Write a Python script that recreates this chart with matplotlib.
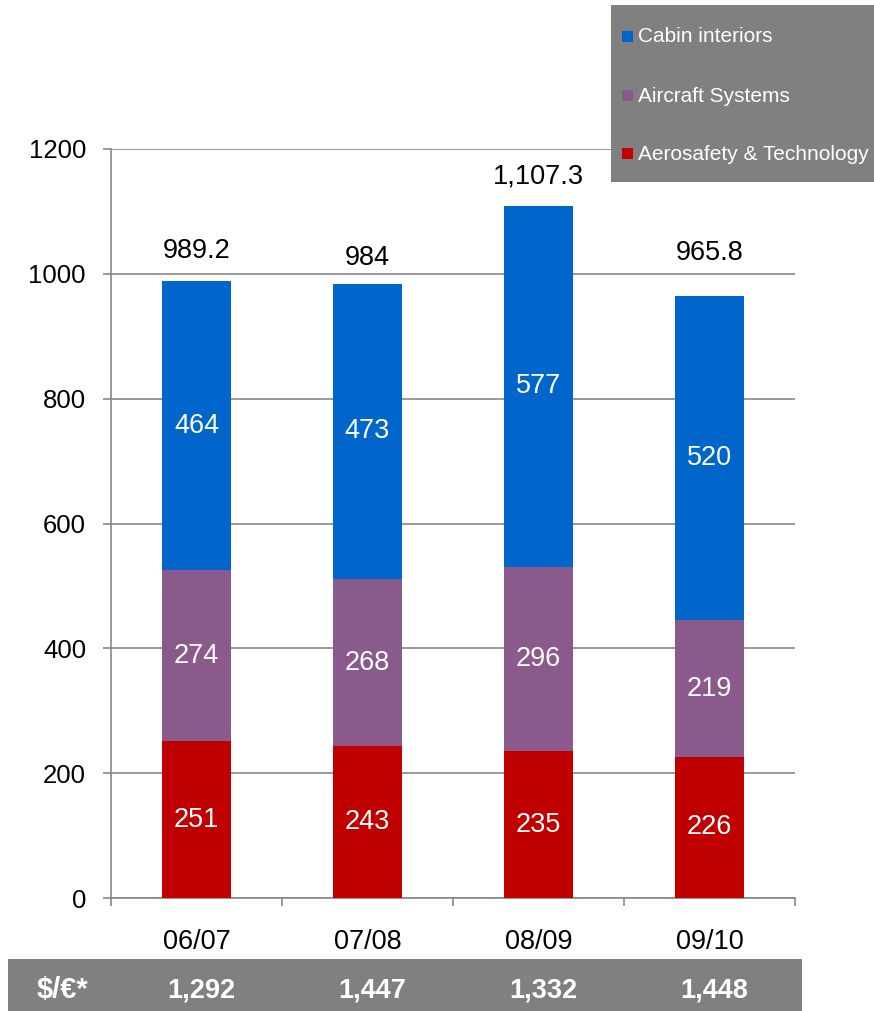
import matplotlib
matplotlib.use("Agg")
import matplotlib.pyplot as plt
from matplotlib.patches import Rectangle
from matplotlib.transforms import blended_transform_factory
import numpy as np

plt.rcParams['font.family'] = ['Liberation Sans', 'DejaVu Sans']

# Revenue by division (stacked), fiscal years
years = ["06/07", "07/08", "08/09", "09/10"]
aerosafety = [251, 243, 235, 226]
aircraft_systems = [274, 268, 296, 219]
cabin_interiors = [464, 473, 577, 520]
total_labels = ["989.2", "984", "1,107.3", "965.8"]
fx_rates = ["1,292", "1,447", "1,332", "1,448"]
fx_title = "$/€*"

series_names = ["Aerosafety & Technology", "Aircraft Systems", "Cabin interiors"]
series_colors = ["#C00000", "#8B5A8C", "#0066CC"]
series_values = [aerosafety, aircraft_systems, cabin_interiors]

# vertical gap (points) between each bar top and its total label
total_label_gap = [21.6, 18.7, 21.6, 31.0]

W, H = 874, 1011
fig = plt.figure(figsize=(W / 100, H / 100), dpi=100)
ax = fig.add_axes([111 / W, 1 - 898 / H, (795 - 111) / W, (898 - 149) / H])

x = np.arange(len(years))
bottom = np.zeros(len(years))
for name, color, vals in zip(series_names, series_colors, series_values):
    vals = np.array(vals, dtype=float)
    ax.bar(x, vals, width=0.4, bottom=bottom, color=color, label=name, zorder=3)
    for xi, b, v in zip(x, bottom, vals):
        ax.text(xi, b + v / 2, f"{int(v)}", ha="center", va="center",
                color="white", fontsize=19.5, zorder=4)
    bottom += vals

for xi, top, lab, gap in zip(x, bottom, total_labels, total_label_gap):
    ax.annotate(lab, (xi, top), xytext=(0, gap), textcoords="offset points",
                ha="center", va="center", fontsize=19.5, color="black")

ax.set_xlim(-0.5, len(years) - 0.5)
ax.set_ylim(0, 1200)
ax.set_yticks(np.arange(0, 1201, 200))
ax.tick_params(axis="y", labelsize=18.5, length=6, width=1.2, color="#888888", pad=12)
ax.set_xticks(x)
ax.set_xticklabels(years)
ax.tick_params(axis="x", which="major", length=0, labelsize=19.5, pad=22)
ax.set_xticks(np.arange(-0.5, len(years)), minor=True)
ax.tick_params(axis="x", which="minor", length=6, width=1.2, color="#888888")

ax.grid(axis="y", color="#888888", linewidth=1.2, zorder=0)
ax.set_axisbelow(True)
for side in ["top", "right"]:
    ax.spines[side].set_visible(False)
for side in ["left", "bottom"]:
    ax.spines[side].set_color("#888888")
    ax.spines[side].set_linewidth(1.2)

# Legend panel
fig.add_artist(Rectangle((611 / W, 1 - 182 / H), (W - 611) / W + 0.01, 177 / H,
                         transform=fig.transFigure, facecolor="#808080",
                         edgecolor="none", zorder=5))
legend_rows = [(36, 2), (95, 1), (153, 0)]
for ypix, idx in legend_rows:
    fig.add_artist(Rectangle((622 / W, 1 - (ypix + 5.5) / H), 11 / W, 11 / H,
                             transform=fig.transFigure,
                             facecolor=series_colors[idx], edgecolor="none", zorder=6))
    fig.text(638 / W, 1 - (ypix + 1) / H, series_names[idx], color="white",
             fontsize=15, va="center", ha="left", zorder=7)

# Exchange-rate band
fig.add_artist(Rectangle((8 / W, 0), (802 - 8) / W, (H - 959) / H,
                         transform=fig.transFigure, facecolor="#808080",
                         edgecolor="none", zorder=5))
band_y = 1 - 990 / H
fig.text(63 / W, band_y, fx_title, color="white", fontsize=21, fontweight="bold",
         ha="center", va="center", zorder=6)
trans = blended_transform_factory(ax.transData, fig.transFigure)
for xi, rate in zip(x, fx_rates):
    fig.text(xi + 0.03, band_y, rate, color="white", fontsize=19.5, fontweight="bold",
             ha="center", va="center", transform=trans, zorder=6)

fig.savefig("out.png", dpi=100)
